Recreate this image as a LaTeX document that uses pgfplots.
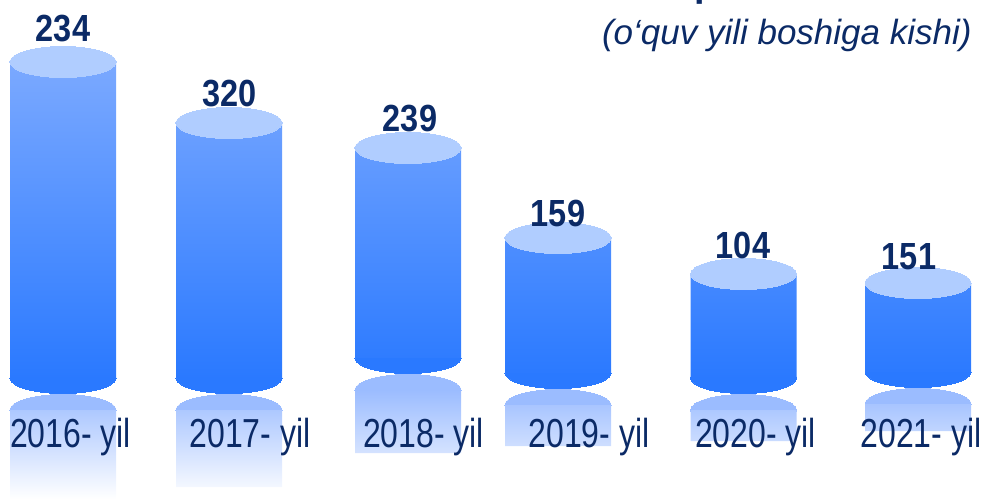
\documentclass[border=0pt]{standalone}
\usepackage{pgfplots}
\pgfplotsset{compat=1.18}
\usepackage{pgfplotstable}
\usepackage{fontspec}
\setmainfont{Liberation Sans}
\definecolor{navy}{HTML}{0B2A66}
\definecolor{captop}{HTML}{B0CDFF}
\definecolor{bodytop}{HTML}{7BA9FF}
\definecolor{bodybot}{HTML}{2A79FF}
\definecolor{refl}{HTML}{9BBCFF}

% stacked parts (pixel units, y measured upward): invisible base, reflection, gap, cylinder body
\pgfplotstableread{
x      base refl gap body
63       0   89  32  316
229     12   77  32  255
408     46   63  32  210
558     53   41  32  135
743.5   58   31  32  104
918     68   27  32   89
}\stacktab

% ellipse centres: bottom of cylinder, reflection cap, top of cylinder
\pgfplotstableread{
x      ybot ycap ytop
63     121   89  437
229    121   89  376
408    141  109  351
558    126   94  261
743.5  121   89  225
918    127   95  216
}\elltab

% value labels (shown numbers) and their positions
\pgfplotstableread{
lx     ly   lab
63     457  234
229.5  392  320
410    367  239
558    272  159
743    241  104
909    230  151
}\labtab

\pgfplotsset{
  base/.style={x=0.5pt,y=0.5pt,xmin=0,xmax=984,ymin=0,ymax=499,
    enlargelimits=false,hide axis,clip=false,at={(0,0)},anchor=south west},
  ell/.style={only marks,mark=*,mark size=7.75pt,
    mark options={xscale=3.42,draw=#1,fill=#1,line width=0pt}},
}

\begin{document}
\begin{tikzpicture}
\useasboundingbox (0,0) rectangle (492pt,249.5pt);
\clip (0,0) rectangle (492pt,249.5pt);

% marks drawn beneath the bars: reflection caps and cylinder bottoms
\begin{axis}[base]
\addplot[ell=refl] table[x=x,y=ycap] {\elltab};
\addplot[ell=bodybot] table[x=x,y=ybot] {\elltab};
\end{axis}

% stacked bars: reflections and cylinder bodies
\begin{axis}[base,ybar stacked,bar width=53pt]
\addplot[draw=none,fill=none] table[x=x,y=base] {\stacktab};
\addplot[draw=none,top color=refl,bottom color=white] table[x=x,y=refl] {\stacktab};
\addplot[draw=none,fill=none] table[x=x,y=gap] {\stacktab};
\addplot[draw=none,top color=bodytop,bottom color=bodybot] table[x=x,y=body] {\stacktab};
\end{axis}

% top caps, value labels, year labels, subtitle
\begin{axis}[base]
\addplot[ell=captop] table[x=x,y=ytop] {\elltab};
\addplot[draw=none,mark=none,nodes near coords,point meta=explicit symbolic,
  nodes near coords align={anchor=base},
  every node near coord/.append style={font=\bfseries\fontsize{18.9}{22}\selectfont,
    text=navy,xscale=0.86,inner sep=0pt}]
  table[x=lx,y=ly,meta=lab] {\labtab};
\addplot[draw=none,mark=none,nodes near coords,point meta=explicit symbolic,
  nodes near coords align={anchor=base},
  every node near coord/.append style={font=\fontsize{20.25}{24}\selectfont,
    text=navy,xscale=0.79,inner sep=0pt}]
  coordinates {(70.5,52) [2016- yil] (250,52) [2017- yil] (423.5,52) [2018- yil]
               (589,52) [2019- yil] (755.5,52) [2020- yil] (921,52) [2021- yil]};
\node[anchor=base east,inner sep=0pt,text=navy,font=\itshape\fontsize{17.5}{20}\selectfont]
  at (axis cs:972,454) {(o‘quv yili boshiga kishi)};
\node[anchor=base west,inner sep=0pt,text=navy,font=\bfseries\fontsize{18.9}{22}\selectfont]
  at (axis cs:694,502) {p};
\end{axis}
\end{tikzpicture}
\end{document}
